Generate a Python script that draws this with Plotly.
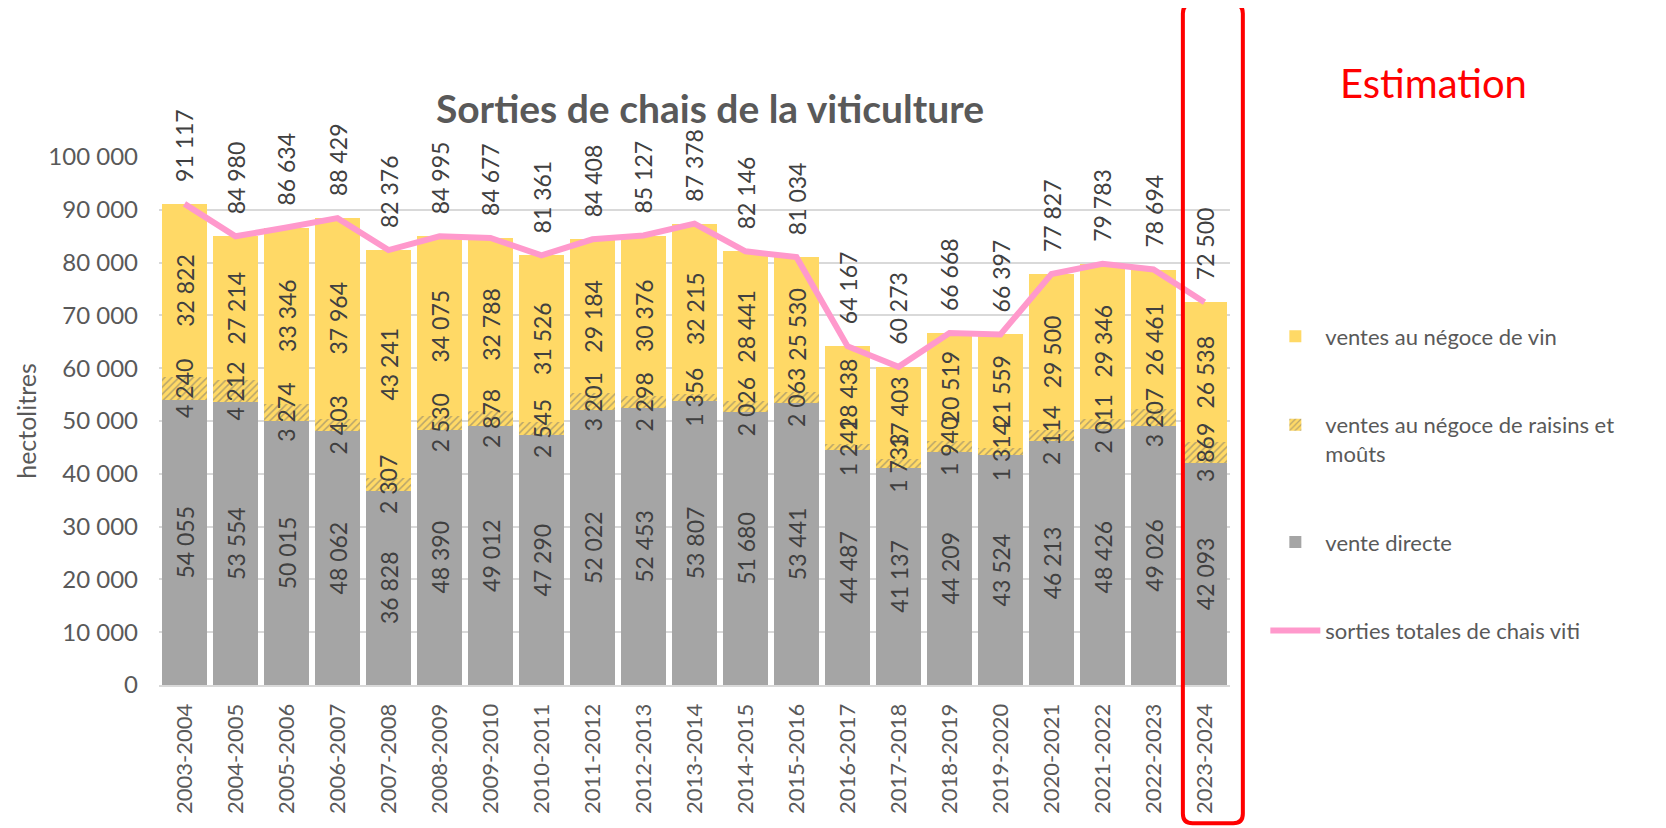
import plotly.graph_objects as go

categories = ["2003-2004", "2004-2005", "2005-2006", "2006-2007", "2007-2008", "2008-2009",
              "2009-2010", "2010-2011", "2011-2012", "2012-2013", "2013-2014", "2014-2015",
              "2015-2016", "2016-2017", "2017-2018", "2018-2019", "2019-2020", "2020-2021",
              "2021-2022", "2022-2023", "2023-2024"]
vente_directe = [54055, 53554, 50015, 48062, 36828, 48390, 49012, 47290, 52022, 52453, 53807,
                 51680, 53441, 44487, 41137, 44209, 43524, 46213, 48426, 49026, 42093]
negoce_raisins = [4240, 4212, 3274, 2403, 2307, 2530, 2878, 2545, 3201, 2298, 1356,
                  2026, 2063, 1242, 1733, 1940, 1314, 2114, 2011, 3207, 3869]
negoce_vin = [32822, 27214, 33346, 37964, 43241, 34075, 32788, 31526, 29184, 30376, 32215,
              28441, 25530, 18438, 17403, 20519, 21559, 29500, 29346, 26461, 26538]
sorties_totales = [91117, 84980, 86634, 88429, 82376, 84995, 84677, 81361, 84408, 85127, 87378,
                   82146, 81034, 64167, 60273, 66668, 66397, 77827, 79783, 78694, 72500]
y_ticks = [0, 10000, 20000, 30000, 40000, 50000, 60000, 70000, 80000, 90000, 100000]


def fmt(v):
    return f"{v:,}".replace(",", " ")


FONT = "Lato, sans-serif"
LABEL_COLOR = "#404040"
AXIS_COLOR = "#595959"
LABEL_SIZE = 23

fig = go.Figure()

common = dict(textposition="inside", textangle=-90, insidetextanchor="middle",
              constraintext="none", cliponaxis=False,
              textfont=dict(family=FONT, size=LABEL_SIZE, color=LABEL_COLOR))

fig.add_trace(go.Bar(x=categories, y=vente_directe, name="vente directe",
                     marker=dict(color="#A5A5A5", line=dict(width=0)),
                     text=[fmt(v) for v in vente_directe], legendrank=3, **common))
fig.add_trace(go.Bar(x=categories, y=negoce_raisins, name="ventes au négoce de raisins et<br>moûts",
                     marker=dict(color="#FFD966", line=dict(width=0),
                                 pattern=dict(shape="/", fgcolor="#6F6F6F", bgcolor="#FFD966",
                                              size=5, solidity=0.3)),
                     textposition="none", legendrank=2))
fig.add_trace(go.Bar(x=categories, y=negoce_vin, name="ventes au négoce de vin",
                     marker=dict(color="#FFD966", line=dict(width=0)),
                     text=[fmt(v) for v in negoce_vin], legendrank=1, **common))
fig.add_trace(go.Scatter(x=categories, y=sorties_totales, name="sorties totales de chais viti",
                         mode="lines", line=dict(color="#FF99CC", width=6),
                         legendrank=4, cliponaxis=False))

# labels of the thin "raisins" segment, drawn above the stacked bars (they overflow in the original)
for c, d, r in zip(categories, vente_directe, negoce_raisins):
    fig.add_annotation(x=c, y=d + r / 2, text=fmt(r), textangle=-90, showarrow=False,
                       xanchor="center", yanchor="middle",
                       font=dict(family=FONT, size=LABEL_SIZE, color=LABEL_COLOR))

# total labels above the line
for c, v in zip(categories, sorties_totales):
    fig.add_annotation(x=c, y=v, text=fmt(v), textangle=-90, showarrow=False,
                       xanchor="center", yanchor="bottom", yshift=20,
                       font=dict(family=FONT, size=LABEL_SIZE, color=LABEL_COLOR))

# Estimation box (rounded) and label
x0, x1, y0, y1 = 0.956, 1.012, -0.262, 1.29
rx, ry = 0.009, 0.018
path = (f"M {x0+rx},{y0} L {x1-rx},{y0} Q {x1},{y0} {x1},{y0+ry} "
        f"L {x1},{y1-ry} Q {x1},{y1} {x1-rx},{y1} L {x0+rx},{y1} Q {x0},{y1} {x0},{y1-ry} "
        f"L {x0},{y0+ry} Q {x0},{y0} {x0+rx},{y0} Z")
fig.add_shape(type="path", path=path, xref="paper", yref="paper",
              line=dict(color="#FF0000", width=4))
fig.add_annotation(text="Estimation", xref="paper", yref="paper", x=1.19, y=1.14,
                   showarrow=False, xanchor="center", yanchor="middle",
                   font=dict(family=FONT, size=40, color="#FF0000"))

# the page body has an 8px margin: figure is 8px smaller and margins offset accordingly
fig.update_layout(
    width=1658, height=820,
    barmode="stack", bargap=0.1,
    paper_bgcolor="white", plot_bgcolor="white",
    separators=", ",
    margin=dict(l=151, r=436, t=149, b=143),
    font=dict(family=FONT, color=AXIS_COLOR),
    title=dict(text="<b>Sorties de chais de la viticulture</b>", x=702 / 1658, xanchor="center",
               y=1 - 101 / 820, yanchor="middle",
               font=dict(family=FONT, size=39, color=AXIS_COLOR)),
    legend=dict(x=1.033, y=0.70, xanchor="left", yanchor="top", valign="top",
                font=dict(family=FONT, size=22, color=AXIS_COLOR),
                tracegroupgap=57, itemwidth=50, bgcolor="rgba(0,0,0,0)"),
    showlegend=True,
)
for i, tr in enumerate(fig.data):
    tr.legendgroup = f"g{i}"

fig.update_xaxes(type="category", tickangle=-90, showgrid=False, showline=True,
                 linecolor="#D9D9D9", linewidth=2, ticks="", ticklabelstandoff=8,
                 tickfont=dict(family=FONT, size=22, color=AXIS_COLOR))
fig.update_yaxes(range=[0, 100000], tickvals=y_ticks, tickformat=",d", showgrid=True,
                 gridcolor="#D9D9D9", gridwidth=1.5, zeroline=False, showline=False,
                 ticklabelstandoff=20,
                 tickfont=dict(family=FONT, size=24, color=AXIS_COLOR),
                 title=dict(text="hectolitres", font=dict(family=FONT, size=25, color=AXIS_COLOR),
                            standoff=4))

fig.write_html("out.html")
